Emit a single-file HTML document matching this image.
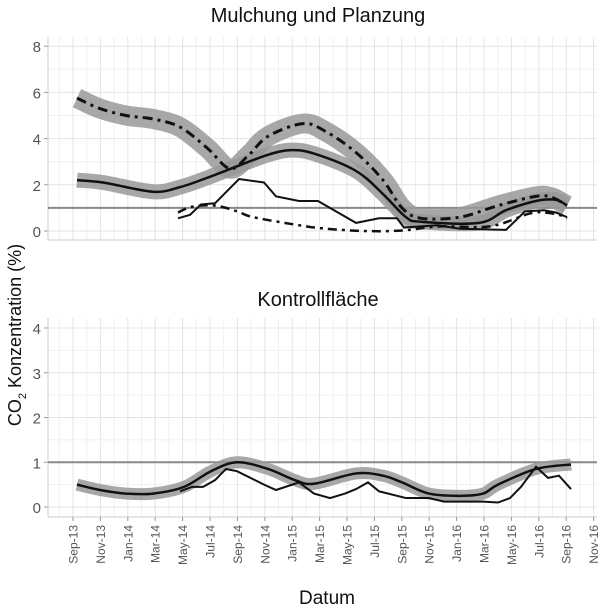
<!DOCTYPE html>
<html><head><meta charset="utf-8"><style>
html,body{margin:0;padding:0;background:#fff;width:600px;height:608px;overflow:hidden}
svg{display:block}
</style></head><body>
<svg id="s" width="600" height="608" xmlns="http://www.w3.org/2000/svg" font-family="Liberation Sans, sans-serif">
<g id="grid"></g>
<g id="data"></g>
<g id="txt"></g>
</svg>
<script>
const NS="http://www.w3.org/2000/svg";
const g=document.getElementById('grid'),d=document.getElementById('data'),t=document.getElementById('txt');
function el(p,tag,a,txt){const e=document.createElementNS(NS,tag);for(const k in a)e.setAttribute(k,a[k]);if(txt!=null)e.textContent=txt;p.appendChild(e);return e;}
const X0=73,DX=13.7,L=48,R=597;
const P=[{top:37,bot:240,y0:231,k:23.1,maj:[0,2,4,6,8],min:[1,3,5,7]},
         {top:318,bot:517,y0:507,k:44.75,maj:[0,1,2,3,4],min:[0.5,1.5,2.5,3.5]}];
P.forEach(p=>{
  for(let i=-1;i<=39;i++){const x=X0+DX*i; if(x<L||x>R)continue;
    el(g,'line',{x1:x,x2:x,y1:p.top,y2:p.bot,stroke:i%2==0?'#e4e4e4':'#f0f0f0','stroke-width':1});}
  p.min.forEach(v=>{const y=p.y0-p.k*v;el(g,'line',{x1:L,x2:R,y1:y,y2:y,stroke:'#f0f0f0'});});
  p.maj.forEach(v=>{const y=p.y0-p.k*v;el(g,'line',{x1:L,x2:R,y1:y,y2:y,stroke:'#e4e4e4'});
    el(t,'text',{x:41,y:y+6,'font-size':15,fill:'#555','text-anchor':'end'},v);
    el(g,'line',{x1:44,x2:L,y1:y,y2:y,stroke:'#999'});});
  el(g,'line',{x1:L,x2:R,y1:p.bot,y2:p.bot,stroke:'#ccc'});
  el(g,'line',{x1:L,x2:L,y1:p.top,y2:p.bot,stroke:'#ccc'});
  const y1=p.y0-p.k;el(d,'line',{x1:L,x2:R,y1:y1,y2:y1,stroke:'#888','stroke-width':2});
});
function path(pts,p){
  const P2=pts.map(a=>[a[0],p.y0-p.k*a[1]]);
  let s='M'+P2[0][0]+','+P2[0][1];
  for(let i=0;i<P2.length-1;i++){const p0=P2[i-1]||P2[i],p1=P2[i],p2=P2[i+1],p3=P2[i+2]||p2;
    s+=' C'+(p1[0]+(p2[0]-p0[0])/6)+','+(p1[1]+(p2[1]-p0[1])/6)+' '+(p2[0]-(p3[0]-p1[0])/6)+','+(p2[1]-(p3[1]-p1[1])/6)+' '+p2[0]+','+p2[1];}
  return s;}
function lin(pts,p){return 'M'+pts.map(a=>a[0]+','+(p.y0-p.k*a[1])).join(' L');}
const A=[[77,5.75],[100,5.3],[126,5.0],[153,4.85],[180,4.5],[207,3.6],[230,2.7],[249,3.3],[268,4.1],[303,4.65],[326,4.3],[356,3.4],[383,2.2],[402,1.0],[421,0.55],[460,0.6],[498,1.1],[536,1.5],[552,1.45],[567,1.1]];
const B=[[77,2.2],[103,2.1],[153,1.7],[180,1.9],[207,2.3],[237,2.8],[268,3.3],[291,3.5],[314,3.35],[356,2.6],[383,1.6],[406,0.6],[421,0.4],[479,0.35],[506,0.9],[536,1.3],[556,1.35],[567,1.1]];
const C=[[178,0.55],[190,0.7],[201,1.15],[215,1.2],[239,2.25],[264,2.1],[276,1.5],[299,1.3],[318,1.3],[356,0.35],[379,0.55],[397,0.55],[404,0.15],[437,0.25],[460,0.1],[506,0.05],[525,0.85],[544,0.9],[556,0.8],[567,0.6]];
const D=[[178,0.8],[192,1.05],[215,1.1],[237,0.85],[253,0.6],[299,0.25],[326,0.1],[364,0.0],[402,0.02],[440,0.2],[490,0.2],[529,0.75],[544,0.8],[559,0.7],[567,0.55]];
const E=[[77,0.5],[100,0.38],[126,0.3],[153,0.3],[184,0.45],[211,0.8],[237,1.0],[268,0.85],[295,0.6],[314,0.52],[356,0.75],[383,0.7],[402,0.55],[429,0.3],[460,0.25],[483,0.3],[498,0.5],[536,0.85],[571,0.95]];
const F=[[180,0.35],[192,0.45],[203,0.45],[215,0.6],[226,0.85],[237,0.8],[264,0.5],[276,0.38],[299,0.55],[314,0.3],[330,0.2],[345,0.3],[356,0.4],[368,0.55],[379,0.35],[406,0.2],[429,0.2],[444,0.12],[483,0.12],[498,0.1],[510,0.2],[521,0.45],[536,0.9],[548,0.65],[559,0.7],[571,0.4]];
const p0=P[0],p1=P[1];
const band={fill:'none',stroke:'#999','stroke-linejoin':'round','stroke-linecap':'butt',opacity:0.85};
el(d,'path',Object.assign({d:path(A,p0),'stroke-width':20},band));
el(d,'path',Object.assign({d:path(B,p0),'stroke-width':15},band));
el(d,'path',{d:path(A,p0),fill:'none',stroke:'#111','stroke-width':3,'stroke-dasharray':'10,5,3,5'});
el(d,'path',{d:path(B,p0),fill:'none',stroke:'#111','stroke-width':2.5});
el(d,'path',{d:lin(C,p0),fill:'none',stroke:'#111','stroke-width':2});
el(d,'path',{d:path(D,p0),fill:'none',stroke:'#111','stroke-width':2.5,'stroke-dasharray':'9,5,3,5'});
el(d,'path',Object.assign({d:path(E,p1),'stroke-width':12},band));
el(d,'path',{d:path(E,p1),fill:'none',stroke:'#111','stroke-width':2.5});
el(d,'path',{d:lin(F,p1),fill:'none',stroke:'#111','stroke-width':2});
const M=['Sep-13','Nov-13','Jan-14','Mar-14','May-14','Jul-14','Sep-14','Nov-14','Jan-15','Mar-15','May-15','Jul-15','Sep-15','Nov-15','Jan-16','Mar-16','May-16','Jul-16','Sep-16','Nov-16'];
M.forEach((m,i)=>{const x=X0+DX*2*i;el(g,'line',{x1:x,x2:x,y1:517,y2:521,stroke:'#999'});
  el(t,'text',{x:0,y:0,'font-size':12,fill:'#555','text-anchor':'end',transform:`translate(${x+4.5},${525}) rotate(-90)`},m);});
el(t,'text',{x:318,y:22,'font-size':20,'text-anchor':'middle',fill:'#111'},'Mulchung und Planzung');
el(t,'text',{x:318,y:306,'font-size':20,'text-anchor':'middle',fill:'#111'},'Kontrollfläche');
el(t,'text',{x:327,y:604,'font-size':19,'text-anchor':'middle',fill:'#111'},'Datum');
const yl=el(t,'text',{x:0,y:0,'font-size':18,'text-anchor':'middle',fill:'#111',transform:'translate(21,335) rotate(-90)'});
yl.innerHTML='CO<tspan font-size="11" dy="5">2</tspan><tspan dy="-5"> Konzentration (%)</tspan>';
</script>
</body></html>
